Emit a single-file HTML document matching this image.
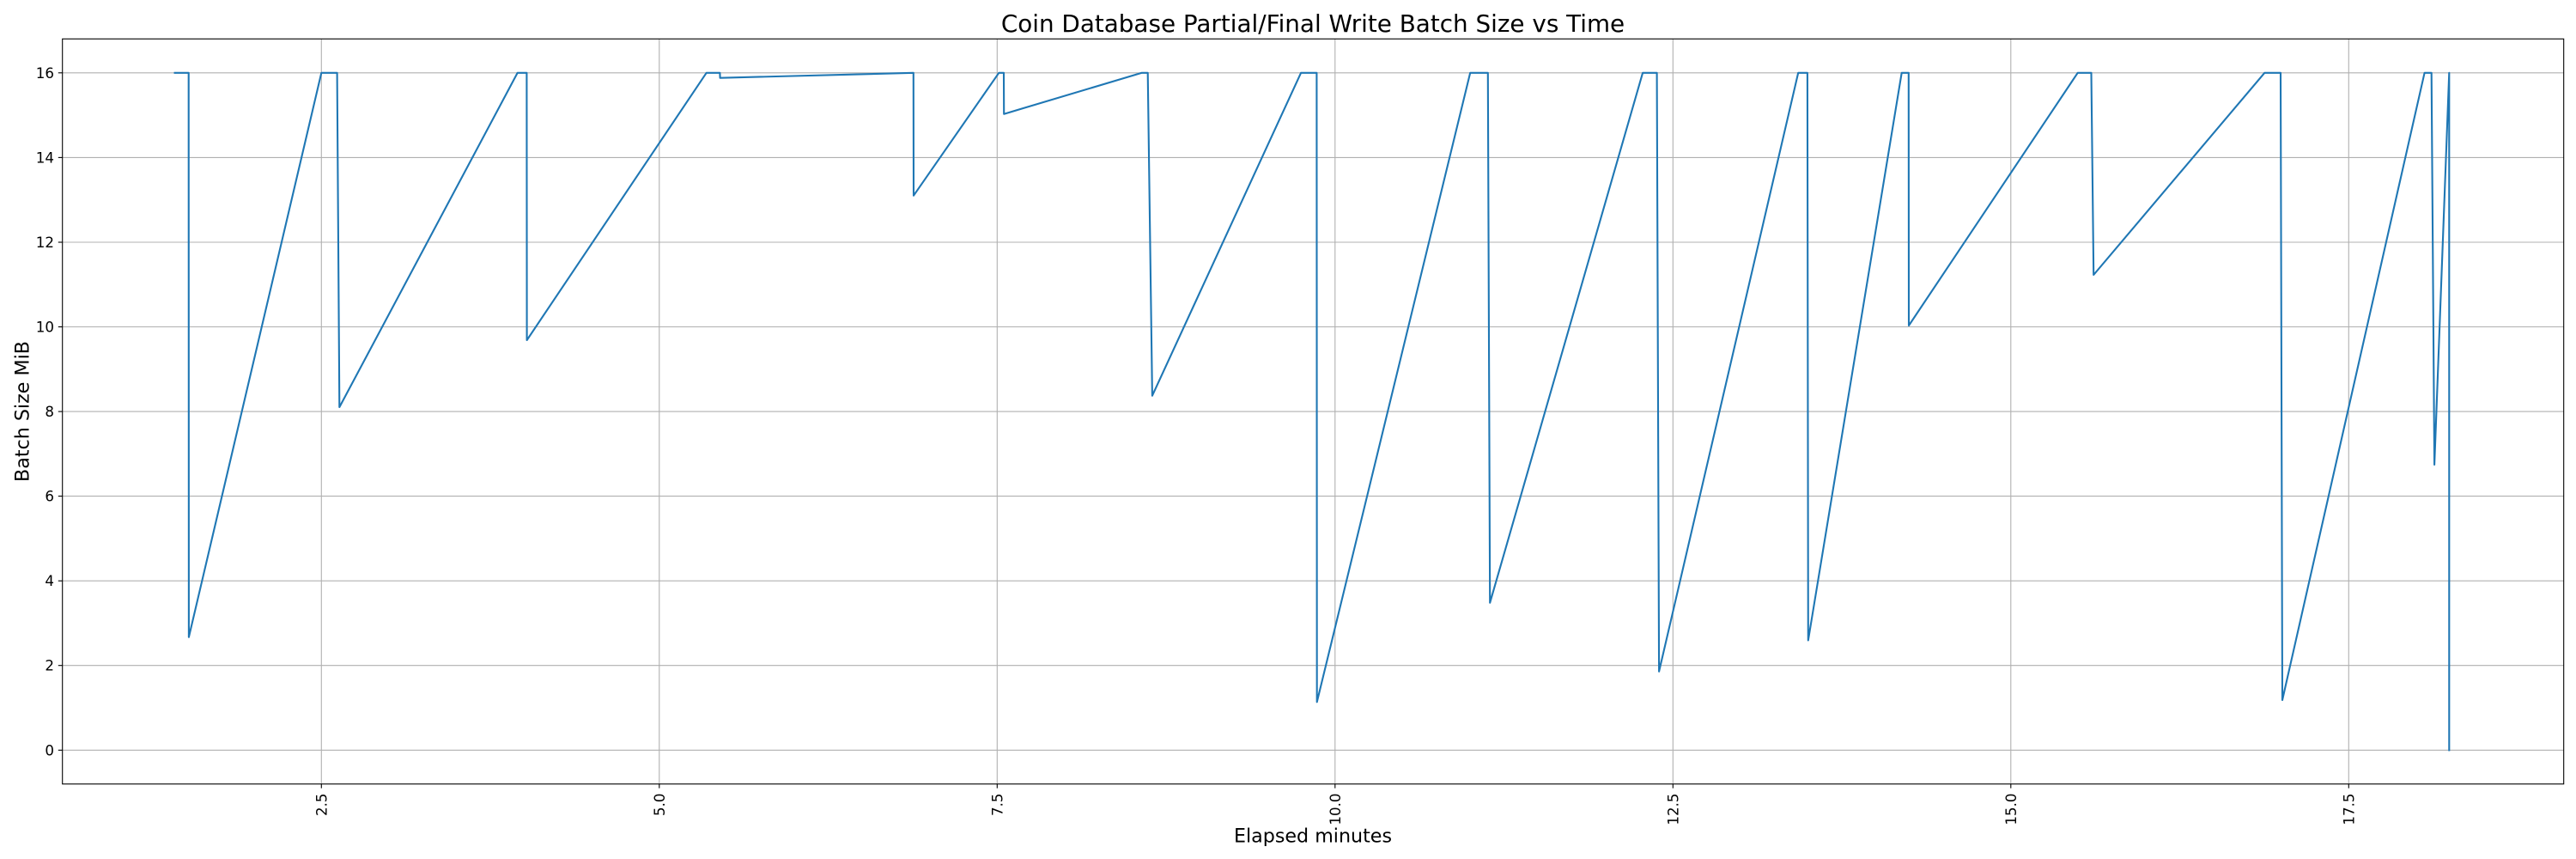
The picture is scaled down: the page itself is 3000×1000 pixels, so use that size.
<!DOCTYPE html>
<html>
<head>
<meta charset="utf-8">
<style>
  html, body { margin: 0; padding: 0; background: #ffffff; }
  svg { display: block; }
  text { font-family: "DejaVu Sans", "Liberation Sans", sans-serif; fill: #000; }
</style>
</head>
<body>
<svg width="3000" height="1000" viewBox="0 0 3000 1000" xmlns="http://www.w3.org/2000/svg">
  <rect x="0" y="0" width="3000" height="1000" fill="#ffffff"/>

  <!-- grid -->
  <g stroke="#b0b0b0" stroke-width="1.1" fill="none">
    <line x1="374.3" y1="45.3" x2="374.3" y2="912.7"/>
    <line x1="767.8" y1="45.3" x2="767.8" y2="912.7"/>
    <line x1="1161.3" y1="45.3" x2="1161.3" y2="912.7"/>
    <line x1="1554.8" y1="45.3" x2="1554.8" y2="912.7"/>
    <line x1="1948.3" y1="45.3" x2="1948.3" y2="912.7"/>
    <line x1="2341.8" y1="45.3" x2="2341.8" y2="912.7"/>
    <line x1="2735.3" y1="45.3" x2="2735.3" y2="912.7"/>

    <line x1="72.7" y1="873.3" x2="2985.7" y2="873.3"/>
    <line x1="72.7" y1="774.7" x2="2985.7" y2="774.7"/>
    <line x1="72.7" y1="676.2" x2="2985.7" y2="676.2"/>
    <line x1="72.7" y1="577.6" x2="2985.7" y2="577.6"/>
    <line x1="72.7" y1="479.1" x2="2985.7" y2="479.1"/>
    <line x1="72.7" y1="380.5" x2="2985.7" y2="380.5"/>
    <line x1="72.7" y1="282.0" x2="2985.7" y2="282.0"/>
    <line x1="72.7" y1="183.4" x2="2985.7" y2="183.4"/>
    <line x1="72.7" y1="84.8" x2="2985.7" y2="84.8"/>
  </g>

  <!-- data line -->
  <polyline fill="none" stroke="#1f77b4" stroke-width="2.1" stroke-linejoin="round" stroke-linecap="square"
    points="203.6,84.8 219.7,84.8 219.9,741.7 374.3,84.8 392.6,84.8 395.3,474.0 602.7,84.8 613.4,84.8 613.6,396.0 822.7,84.8 838.4,84.8 838.6,90.7 1063.8,84.8 1064.0,227.7 1163.3,84.8 1169.0,84.8 1169.2,132.7 1329.8,84.8 1336.7,84.8 1341.9,460.7 1515.1,84.8 1533.4,84.8 1533.7,817.3 1712.2,84.8 1732.8,84.8 1735.2,701.7 1913.1,84.8 1929.6,84.8 1932.1,781.7 2094.2,84.8 2104.9,84.8 2105.8,745.5 2214.7,84.8 2222.8,84.8 2223.0,379.0 2419.7,84.8 2435.5,84.8 2438.2,320.0 2637.3,84.8 2656.0,84.8 2658.0,815.0 2823.6,84.8 2831.7,84.8 2835.1,541.0 2852.3,84.8 2852.3,873.3"/>

  <!-- spines -->
  <rect x="72.7" y="45.3" width="2913" height="867.4" fill="none" stroke="#000" stroke-width="1.1"/>

  <!-- ticks -->
  <g stroke="#000" stroke-width="1.1">
    <line x1="374.3" y1="912.7" x2="374.3" y2="917.6"/>
    <line x1="767.8" y1="912.7" x2="767.8" y2="917.6"/>
    <line x1="1161.3" y1="912.7" x2="1161.3" y2="917.6"/>
    <line x1="1554.8" y1="912.7" x2="1554.8" y2="917.6"/>
    <line x1="1948.3" y1="912.7" x2="1948.3" y2="917.6"/>
    <line x1="2341.8" y1="912.7" x2="2341.8" y2="917.6"/>
    <line x1="2735.3" y1="912.7" x2="2735.3" y2="917.6"/>

    <line x1="67.8" y1="873.3" x2="72.7" y2="873.3"/>
    <line x1="67.8" y1="774.7" x2="72.7" y2="774.7"/>
    <line x1="67.8" y1="676.2" x2="72.7" y2="676.2"/>
    <line x1="67.8" y1="577.6" x2="72.7" y2="577.6"/>
    <line x1="67.8" y1="479.1" x2="72.7" y2="479.1"/>
    <line x1="67.8" y1="380.5" x2="72.7" y2="380.5"/>
    <line x1="67.8" y1="282.0" x2="72.7" y2="282.0"/>
    <line x1="67.8" y1="183.4" x2="72.7" y2="183.4"/>
    <line x1="67.8" y1="84.8" x2="72.7" y2="84.8"/>
  </g>

  <!-- y tick labels -->
  <g font-size="16.7" text-anchor="end">
    <text x="63" y="873.3" dy="0.36em">0</text>
    <text x="63" y="774.7" dy="0.36em">2</text>
    <text x="63" y="676.2" dy="0.36em">4</text>
    <text x="63" y="577.6" dy="0.36em">6</text>
    <text x="63" y="479.1" dy="0.36em">8</text>
    <text x="63" y="380.5" dy="0.36em">10</text>
    <text x="63" y="282.0" dy="0.36em">12</text>
    <text x="63" y="183.4" dy="0.36em">14</text>
    <text x="63" y="84.8" dy="0.36em">16</text>
  </g>

  <!-- x tick labels (rotated) -->
  <g font-size="16.7" text-anchor="end">
    <text transform="translate(374.3,923.5) rotate(-90)" dy="0.36em">2.5</text>
    <text transform="translate(767.8,923.5) rotate(-90)" dy="0.36em">5.0</text>
    <text transform="translate(1161.3,923.5) rotate(-90)" dy="0.36em">7.5</text>
    <text transform="translate(1554.8,923.5) rotate(-90)" dy="0.36em">10.0</text>
    <text transform="translate(1948.3,923.5) rotate(-90)" dy="0.36em">12.5</text>
    <text transform="translate(2341.8,923.5) rotate(-90)" dy="0.36em">15.0</text>
    <text transform="translate(2735.3,923.5) rotate(-90)" dy="0.36em">17.5</text>
  </g>

  <!-- title and axis labels -->
  <text x="1529" y="37" font-size="27.8" text-anchor="middle">Coin Database Partial/Final Write Batch Size vs Time</text>
  <text x="1529" y="980.5" font-size="22.2" text-anchor="middle">Elapsed minutes</text>
  <text transform="translate(33.3,479) rotate(-90)" font-size="22.2" text-anchor="middle">Batch Size MiB</text>
</svg>
</body>
</html>
